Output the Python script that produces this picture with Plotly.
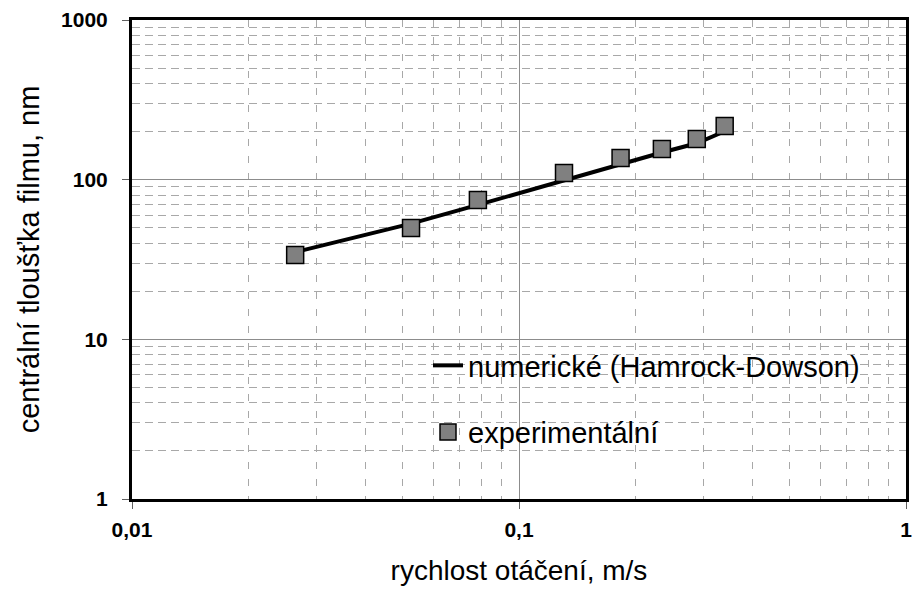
import plotly.graph_objects as go

# Data
exp_speed = [0.0264, 0.0526, 0.0783, 0.1307, 0.1830, 0.234, 0.288, 0.340]
exp_thickness = [33.8, 49.8, 74.6, 110.2, 136.9, 155.5, 179.8, 216.9]

num_speed = [0.0264, 0.0526, 0.0783, 0.1307, 0.1830, 0.234, 0.288, 0.340]
num_thickness = [35.2, 53.0, 69.5, 99.6, 126.0, 148.0, 169.0, 201.0]

x_tickvals = [0.01, 0.1, 1]
x_ticktext = ["0,01", "0,1", "1"]
y_tickvals = [1, 10, 100, 1000]
y_ticktext = ["1", "10", "100", "1000"]

FONT = "Liberation Sans, Arial, sans-serif"

fig = go.Figure()
fig.add_trace(go.Scatter(
    x=num_speed, y=num_thickness, mode="lines",
    name="numerické (Hamrock-Dowson)",
    line=dict(color="black", width=4),
    legendgroup="a",
))
fig.add_trace(go.Scatter(
    x=exp_speed, y=exp_thickness, mode="markers",
    name="experimentální",
    marker=dict(symbol="square", size=17, color="#808080",
                line=dict(color="black", width=1.5)),
    legendgroup="b",
))

# white background behind the legend (hides grid, like the reference)
fig.add_shape(type="rect", xref="paper", yref="paper",
              x0=(387 - 132) / 774, x1=(890 - 132) / 774,
              y0=(499 - 468) / 479, y1=(499 - 327) / 479,
              fillcolor="white", line=dict(width=0), layer="between")

axis_common = dict(
    type="log", showline=True, linecolor="black", linewidth=3, mirror=True,
    ticks="outside", ticklen=7, tickcolor="#606060", tickwidth=1,
    showgrid=True, gridcolor="#8c8c8c", gridwidth=1,
    zeroline=False,
    tickfont=dict(family=FONT, size=21, color="black", weight="bold"),
)

fig.update_xaxes(
    **axis_common,
    range=[-2, 0],
    tickmode="array", tickvals=x_tickvals, ticktext=x_ticktext,
    ticklabelstandoff=3,
    minor=dict(dtick="D1", showgrid=True, gridcolor="#a8a8a8",
               griddash="7px,10px", gridwidth=1, ticks=""),
    title=dict(text="rychlost otáčení, m/s",
               font=dict(family=FONT, size=28, color="black"), standoff=21),
)
fig.update_yaxes(
    **axis_common,
    range=[0, 3],
    tickmode="array", tickvals=y_tickvals, ticktext=y_ticktext,
    ticklabelstandoff=10,
    minor=dict(dtick="D1", showgrid=True, gridcolor="#a8a8a8",
               griddash="8px,5px", gridwidth=1, ticks=""),
    title=dict(text="centrální tloušťka filmu, nm",
               font=dict(family=FONT, size=29, color="black"), standoff=13),
)

fig.update_layout(
    width=916, height=600,
    margin=dict(l=132, r=10, t=20, b=101, autoexpand=False),
    paper_bgcolor="white", plot_bgcolor="white",
    font=dict(family=FONT, color="black"),
    showlegend=True,
    legend=dict(
        x=(428 - 132) / 774, y=(499 - 340) / 479,
        xanchor="left", yanchor="top",
        bgcolor="rgba(0,0,0,0)", borderwidth=0,
        font=dict(family=FONT, size=29, color="black"),
        tracegroupgap=26, itemwidth=30,
    ),
)

fig.write_html("out.html",
               config={"displayModeBar": False},
               post_script="document.body.style.margin='0px';document.body.style.overflow='hidden';")
